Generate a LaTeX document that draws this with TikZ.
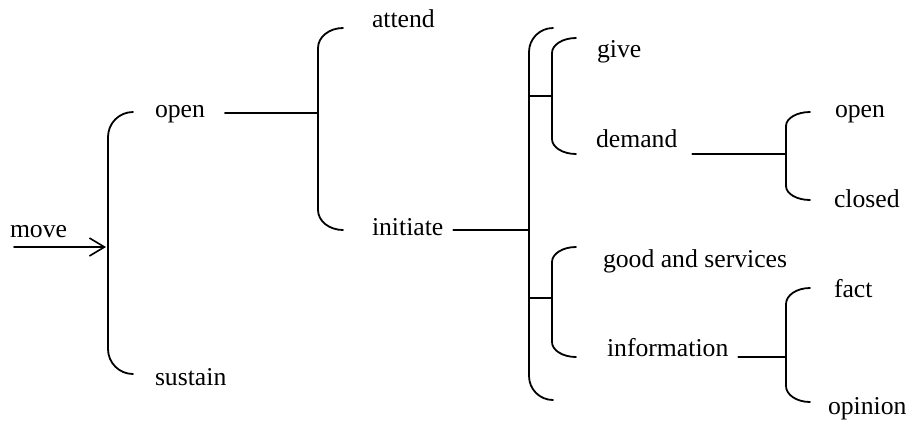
\documentclass[tikz,border=0pt]{standalone}
\usepackage{fontspec}
\setmainfont{Liberation Serif}
\usetikzlibrary{arrows.meta}
\tikzset{
  ln/.style={line width=1.8pt, line cap=round, black},
  lbl/.style={anchor=base west, inner sep=0pt, outer sep=0pt, font=\fontsize{25.7}{30}\selectfont}
}
% #1 x of spine, #2 x of ends, #3 y top, #4 y bottom, #5 vertical radius
\newcommand\mybrace[5]{%
  \draw[ln] (#2,#3) .. controls ({#1+0.448*(#2-#1)},#3) and (#1,{#3+0.448*#5}) .. (#1,#3+#5)
    -- (#1,#4-#5) .. controls (#1,{#4-0.448*#5}) and ({#1+0.448*(#2-#1)},#4) .. (#2,#4);}
\begin{document}
\begin{tikzpicture}[x=1pt,y=-1pt]
\useasboundingbox (0,0) rectangle (910,424);
% labels
\node[lbl] (move) at (10,237) {move};
\node[lbl] (open) at (155,117) {open};
\node[lbl] (sustain) at (155,385) {sustain};
\node[lbl] (attend) at (372,27) {attend};
\node[lbl] (initiate) at (372,235) {initiate};
\node[lbl] (give) at (597,57) {give};
\node[lbl] (demand) at (596,147) {demand};
\node[lbl] (goods) at (603,267) {good and services};
\node[lbl] (info) at (607,356) {information};
\node[lbl] (open2) at (835,117) {open};
\node[lbl] (closed) at (834,207) {closed};
\node[lbl] (fact) at (834,297) {fact};
\node[lbl] (opinion) at (828,414) {opinion};
% junction coordinates
\coordinate (mvs) at (14,247);
\coordinate (j1) at (106,247);
\coordinate (j2) at (318,113);
\coordinate (j3) at (529,230);
\coordinate (j4) at (786,154);
\coordinate (j5) at (786,357);
\coordinate (t1) at (552,96);
\coordinate (t2) at (552,298);
% brackets
\mybrace{108}{133}{112}{374}{25}
\mybrace{318}{343}{28}{230}{20}
\mybrace{529}{553}{28}{400}{24}
\mybrace{552}{576}{38}{154}{15}
\mybrace{552}{576}{247}{357}{15}
\mybrace{786}{810}{112}{200}{14}
\mybrace{786}{810}{288}{402}{16}
% connectors
\draw[ln, -{Straight Barb[length=15pt,width=18pt,line width=1.6pt]}] (mvs) -- (j1);
\draw[ln] ([xshift=20pt]open.east |- j2) -- (j2);
\draw[ln] ([xshift=10pt]initiate.east |- j3) -- (j3);
\draw[ln] (t1 -| j3) -- (t1);
\draw[ln] (t2 -| j3) -- (t2);
\draw[ln] ([xshift=15pt]demand.east |- j4) -- (j4);
\draw[ln] ([xshift=10pt]info.east |- j5) -- (j5);
\end{tikzpicture}
\end{document}
